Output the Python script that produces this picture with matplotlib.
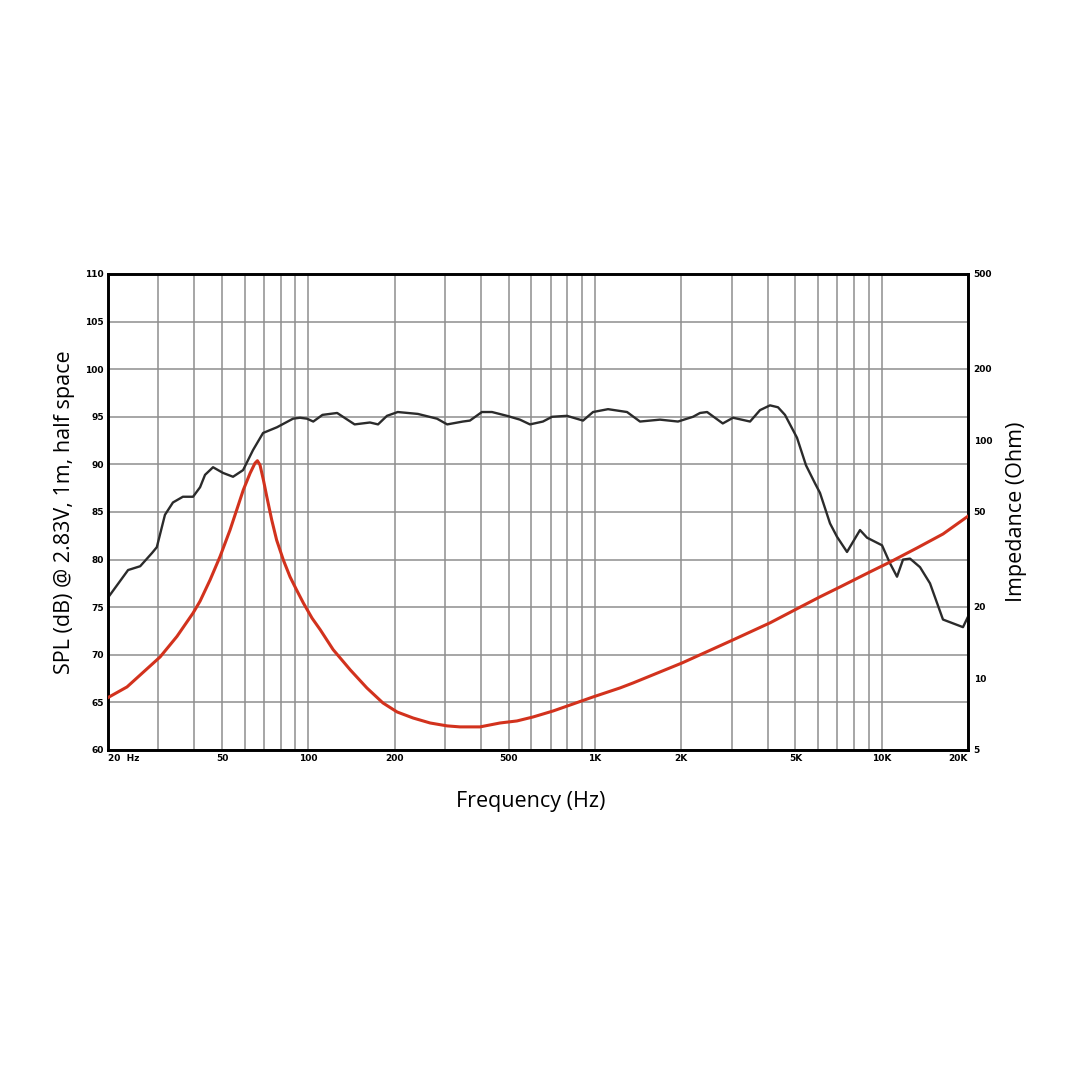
import matplotlib
matplotlib.use("Agg")
import matplotlib.pyplot as plt
from matplotlib.ticker import NullLocator, NullFormatter

# SPL response (black)
spl_freq = [20, 23.5, 25.9, 28.5, 29.6, 31.6, 33.7, 36.5, 39.6, 41.9, 43.6, 46.5,
            50.4, 54.6, 59.2, 64.1, 69.5, 77.7, 88.4, 93.5, 98.9, 104, 112, 126,
            145, 164, 175, 188, 205, 241, 281, 305, 346, 366, 403, 437, 493, 547,
            593, 658, 708, 798, 908, 984, 1110, 1293, 1435, 1685, 1947, 2197,
            2324, 2460, 2790, 3030, 3473, 3763, 4077, 4347, 4598, 5064, 5444,
            5854, 6092, 6602, 6982, 7568, 8400, 8886, 10024, 10692, 11308, 11868,
            12554, 13604, 14740, 16358, 19210, 20000]
spl_db = [76.0, 78.9, 79.3, 80.7, 81.3, 84.7, 86.0, 86.6, 86.6, 87.6, 88.9, 89.7,
          89.1, 88.7, 89.4, 91.5, 93.3, 93.9, 94.8, 94.9, 94.8, 94.5, 95.2, 95.4,
          94.2, 94.4, 94.2, 95.1, 95.5, 95.3, 94.8, 94.2, 94.5, 94.6, 95.5, 95.5,
          95.1, 94.7, 94.2, 94.5, 95.0, 95.1, 94.6, 95.5, 95.8, 95.5, 94.5, 94.7,
          94.5, 95.0, 95.4, 95.5, 94.3, 94.9, 94.5, 95.7, 96.2, 96.0, 95.2, 92.8,
          89.9, 88.0, 87.0, 83.8, 82.4, 80.8, 83.1, 82.3, 81.5, 79.6, 78.2, 80.0,
          80.1, 79.2, 77.5, 73.7, 72.9, 74.0]

# Impedance (red)
imp_freq = [20, 23.3, 30.4, 34.8, 39.6, 41.9, 45.4, 49.2, 53.3, 56.2, 59.3, 62.6,
            65.1, 66.4, 67.8, 69.7, 71.6, 74.5, 77.5, 81.8, 86.3, 91.0, 96.1,
            103, 110, 122, 140, 160, 182, 204, 232, 266, 305, 338, 397, 466, 534,
            608, 714, 838, 984, 1222, 1357, 2011, 3028, 4077, 5064, 6092, 7154,
            9101, 10692, 13280, 16358, 20000]
imp_ohm = [8.3, 9.2, 12.3, 15.0, 18.8, 21.1, 25.9, 32.5, 42.0, 50.9, 61.9, 72.7,
           80.1, 82.1, 78.8, 68.1, 58.0, 46.3, 38.1, 31.4, 26.7, 23.5, 20.7,
           17.9, 16.0, 13.2, 10.85, 9.11, 7.88, 7.22, 6.81, 6.49, 6.31, 6.25,
           6.25, 6.49, 6.62, 6.88, 7.29, 7.80, 8.35, 9.11, 9.56, 11.6, 14.5,
           17.1, 19.6, 22.0, 24.2, 28.0, 30.8, 35.3, 40.4, 48.0]

x_ticks = [20, 50, 100, 200, 500, 1000, 2000, 5000, 10000, 20000]
x_labels = ["20  Hz", "50", "100", "200", "500", "1K", "2K", "5K", "10K", "20K"]
x_minor = [30, 40, 60, 70, 80, 90, 300, 400, 600, 700, 800, 900,
           3000, 4000, 6000, 7000, 8000, 9000]
spl_ticks = [60, 65, 70, 75, 80, 85, 90, 95, 100, 105, 110]
imp_ticks = [5, 10, 20, 50, 100, 200, 500]

GRID = "#8e8e8e"
SPL_COLOR = "#2b2b2b"
IMP_COLOR = "#d2321d"
LABEL_FONT = ["Open Sans", "DejaVu Sans"]

fig = plt.figure(figsize=(10.8, 10.8), dpi=100)
ax = fig.add_axes([0.1, 0.3056, 0.7963, 0.4407])

ax.set_xscale("log")
ax.set_xlim(20, 20000)
ax.set_ylim(60, 110)
ax.set_xticks(x_ticks)
ax.set_xticklabels(x_labels, fontsize=6.5, fontweight="bold")
ax.set_xticks(x_minor, minor=True)
ax.xaxis.set_minor_formatter(NullFormatter())
ax.set_yticks(spl_ticks)
ax.set_yticklabels([str(t) for t in spl_ticks], fontsize=6.5, fontweight="bold")
ax.tick_params(which="both", length=0, pad=3)
ax.grid(True, which="both", color=GRID, linewidth=1.1)
ax.set_axisbelow(True)

labels = ax.get_xticklabels()
labels[0].set_horizontalalignment("left")
labels[-1].set_horizontalalignment("right")

ax.plot(spl_freq, spl_db, color=SPL_COLOR, linewidth=1.7, zorder=3)

ax2 = ax.twinx()
ax2.set_yscale("log")
ax2.set_ylim(5, 500)
ax2.set_yticks(imp_ticks)
ax2.set_yticklabels([str(t) for t in imp_ticks], fontsize=6.5, fontweight="bold")
ax2.yaxis.set_minor_locator(NullLocator())
ax2.tick_params(which="both", length=0, pad=4)
ax2.plot(imp_freq, imp_ohm, color=IMP_COLOR, linewidth=2.2, zorder=4,
         solid_joinstyle="round")

for a in (ax, ax2):
    for s in a.spines.values():
        s.set_linewidth(1.9)
        s.set_color("black")

ax.set_ylabel("SPL (dB) @ 2.83V, 1m, half space", fontsize=15.5,
              family=LABEL_FONT, labelpad=7)
ax2.set_ylabel("Impedance (Ohm)", fontsize=15.5, family=LABEL_FONT, labelpad=10)
ax.set_xlabel("Frequency (Hz)", fontsize=15.5, family=LABEL_FONT, labelpad=20)
ax.xaxis.label.set_x(0.492)

fig.savefig("out.png", dpi=100)
